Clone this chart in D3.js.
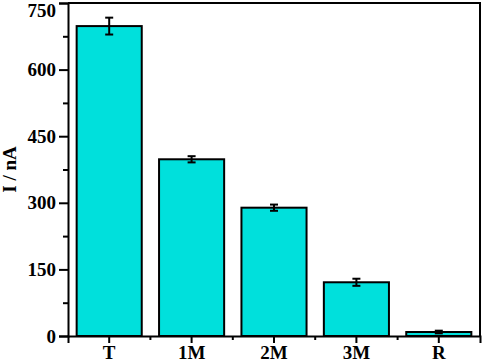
<!DOCTYPE html>
<html>
<head>
<meta charset="utf-8">
<script src="https://cdn.jsdelivr.net/npm/d3@7"></script>
<style>
  body { margin: 0; background: #fff; }
  text { font-family: "Liberation Serif", "Times New Roman", serif; font-weight: bold; }
</style>
</head>
<body>
<div id="chart"></div>
<script>
// data
const categories = ["T", "1M", "2M", "3M", "R"]
const currents = [698, 398, 289, 121, 9]
const errors = [19, 7, 7, 8, 3]
const yTicks = [0, 150, 300, 450, 600, 750]
const yMinorTicks = [75, 225, 375, 525, 675]

const WIDTH = 484
const HEIGHT = 363
const MARGINS = {left: 68, right: 4, top: 3, bottom: 27};

const svg = d3.select("#chart")
	.append("svg")
		.attr("width", WIDTH)
		.attr("height", HEIGHT);

const X = d3.scaleBand()
	.domain(categories)
	.range([MARGINS.left, WIDTH - MARGINS.right])
	.paddingInner(0.21)
	.paddingOuter(0.105);

const Y = d3.scaleLinear()
	.domain([0, 750])
	.range([HEIGHT - MARGINS.bottom, MARGINS.top]);

// bars
svg.selectAll(".bar")
	.data(categories)
	.enter()
	.append("rect")
		.attr("class", "bar")
		.attr("x", (d) => X(d))
		.attr("y", (d, i) => Y(currents[i]))
		.attr("width", X.bandwidth())
		.attr("height", (d, i) => Y(0) - Y(currents[i]))
		.attr("fill", "#00e0dc")
		.attr("stroke", "#000")
		.attr("stroke-width", 2);

// error bars
const err = svg.selectAll(".err")
	.data(categories)
	.enter()
	.append("g")
		.attr("class", "err")
		.attr("stroke", "#000")
		.attr("stroke-width", 2);

err.append("line")
	.attr("x1", (d) => X(d) + X.bandwidth() / 2)
	.attr("x2", (d) => X(d) + X.bandwidth() / 2)
	.attr("y1", (d, i) => Y(currents[i] - errors[i]))
	.attr("y2", (d, i) => Y(currents[i] + errors[i]));

err.append("line")
	.attr("x1", (d) => X(d) + X.bandwidth() / 2 - 4)
	.attr("x2", (d) => X(d) + X.bandwidth() / 2 + 4)
	.attr("y1", (d, i) => Y(currents[i] + errors[i]))
	.attr("y2", (d, i) => Y(currents[i] + errors[i]));

err.append("line")
	.attr("x1", (d) => X(d) + X.bandwidth() / 2 - 4)
	.attr("x2", (d) => X(d) + X.bandwidth() / 2 + 4)
	.attr("y1", (d, i) => Y(currents[i] - errors[i]))
	.attr("y2", (d, i) => Y(currents[i] - errors[i]));

// y axis
const yAxis = svg.append("g")
	.attr("transform", `translate(${MARGINS.left},0)`)
	.call(d3.axisLeft(Y).tickValues(yTicks).tickSize(9).tickPadding(3));

svg.append("g")
	.attr("transform", `translate(${MARGINS.left},0)`)
	.call(d3.axisLeft(Y).tickValues(yMinorTicks).tickSize(5).tickFormat(""))
	.call(g => g.select(".domain").remove());

// x axis
const xAxis = svg.append("g")
	.attr("transform", `translate(0,${HEIGHT - MARGINS.bottom})`)
	.call(d3.axisBottom(X).tickSize(7).tickPadding(3));

const xMinor = categories.slice(1).map((d) => X(d) - X.step() * X.paddingInner() / 2);
svg.selectAll(".xminor")
	.data(xMinor)
	.enter()
	.append("line")
		.attr("x1", (d) => d)
		.attr("x2", (d) => d)
		.attr("y1", HEIGHT - MARGINS.bottom)
		.attr("y2", HEIGHT - MARGINS.bottom + 4)
		.attr("stroke", "#000")
		.attr("stroke-width", 2);

[yAxis, xAxis].forEach((g) => {
	g.selectAll("text").style("font-size", "19px").attr("fill", "#000");
	g.select(".domain").attr("stroke-width", 2);
});
svg.selectAll(".tick line").attr("stroke-width", 2);

// top label sits below its tick so it is not clipped
yAxis.selectAll(".tick text").filter((d) => d === 750).attr("dy", "0.7em");

// frame top & right
svg.append("path")
	.attr("d", `M${MARGINS.left},${MARGINS.top}H${WIDTH - MARGINS.right}V${HEIGHT - MARGINS.bottom}`)
	.attr("fill", "none")
	.attr("stroke", "#000")
	.attr("stroke-width", 2);

// y label
svg.append("text")
	.attr("transform", `translate(16,${(MARGINS.top + HEIGHT - MARGINS.bottom) / 2}) rotate(-90)`)
	.attr("text-anchor", "middle")
	.style("font-size", "19px")
	.text("I / nA");
</script>
</body>
</html>
